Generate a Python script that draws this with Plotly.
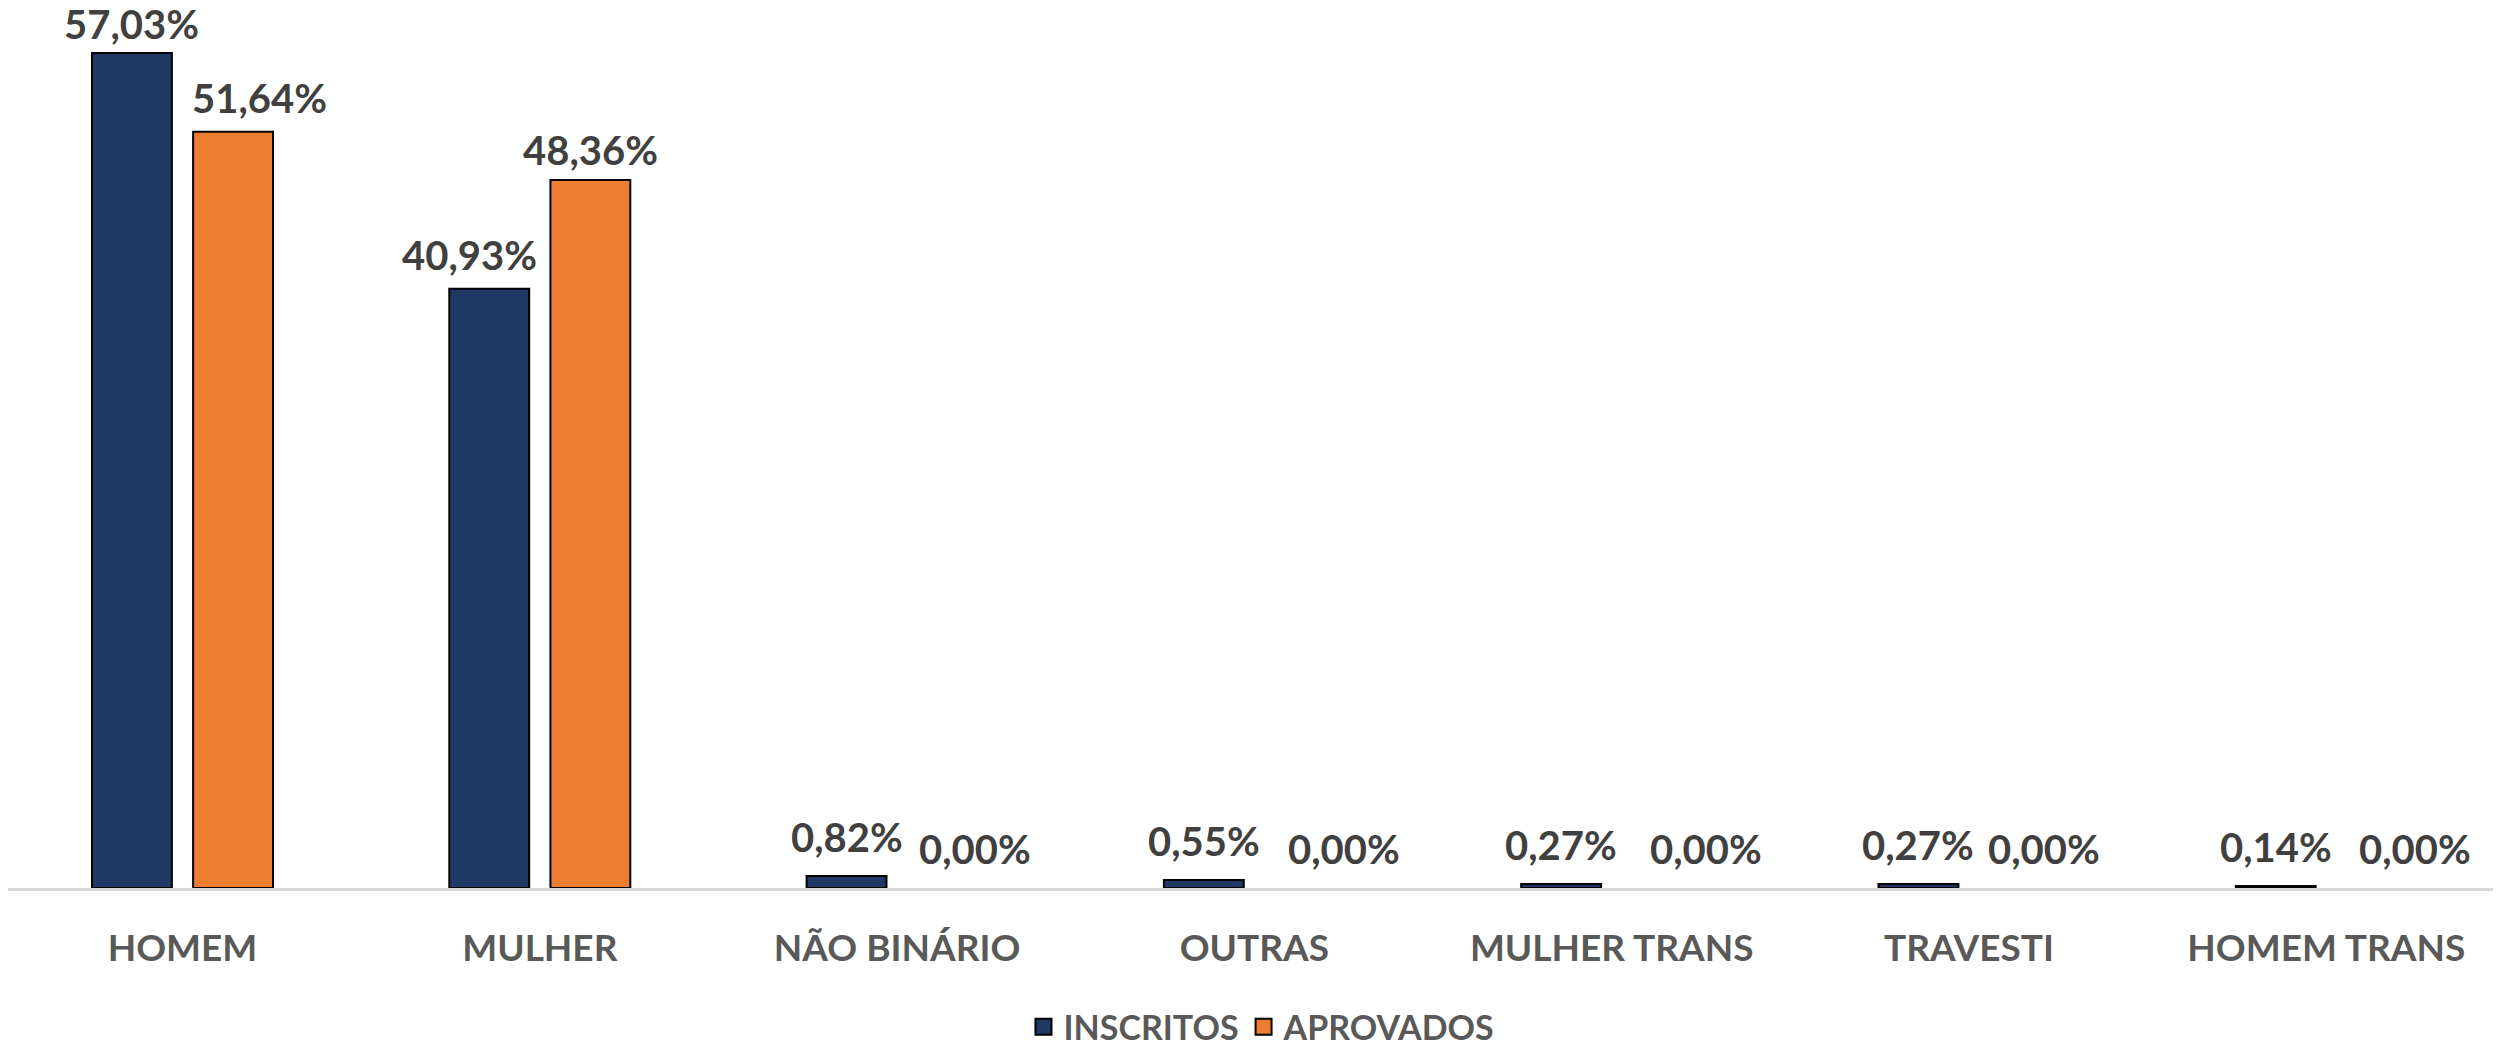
import plotly.graph_objects as go

categories = ["HOMEM", "MULHER", "NÃO BINÁRIO", "OUTRAS", "MULHER TRANS", "TRAVESTI", "HOMEM TRANS"]
inscritos = [57.03, 40.93, 0.82, 0.55, 0.27, 0.27, 0.14]
aprovados = [51.64, 48.36, 0.00, 0.00, 0.00, 0.00, 0.00]
series_names = ["INSCRITOS", "APROVADOS"]

# style: colours and small nudges of the value labels (px), as placed in the reference
colors = ["#203864", "#ED7D31"]
nudge_x_inscritos = [0, -20, 0, 0, 0, 0, 0]
nudge_x_aprovados = [26, 0, 27, 39, 44, 24, 38]
nudge_y_inscritos = [3, 8, 13, 13, 13, 13, 13]
nudge_y_aprovados = [8, 4, 13, 13, 13, 13, 13]

W, H = 2493, 1038          # page has an 8px body margin
BARGAP = 0.434
XRANGE = [-0.4884, 6.489]
step_px = W / (XRANGE[1] - XRANGE[0])
half_slot = (1 - BARGAP) * step_px / 4


def fmt(v):
    return f"{v:.2f}".replace(".", ",") + "%"


def outline(v):
    return [2 if x > 0 else 0 for x in v]


fig = go.Figure()
for name, vals, col in zip(series_names, [inscritos, aprovados], colors):
    fig.add_trace(go.Bar(
        name=name, x=categories, y=vals, showlegend=False,
        marker=dict(color=col, line=dict(color="#000000", width=outline(vals))),
    ))
# legend proxies (larger square symbols)
for name, col in zip(series_names, colors):
    fig.add_trace(go.Scatter(
        name=name, x=[None], y=[None], mode="markers",
        marker=dict(symbol="square", size=16, color=col, line=dict(color="#000000", width=2)),
    ))

label_font = dict(family="Lato", size=40, color="#404040", weight="bold")
annotations = []
for vals, sign, nx, ny in [(inscritos, -1, nudge_x_inscritos, nudge_y_inscritos),
                           (aprovados, 1, nudge_x_aprovados, nudge_y_aprovados)]:
    for cat, v, dx, dy in zip(categories, vals, nx, ny):
        annotations.append(dict(
            x=cat, y=v, xref="x", yref="y", text=fmt(v), showarrow=False,
            xanchor="center", yanchor="bottom", xshift=sign * half_slot + dx, yshift=dy,
            font=label_font,
        ))

fig.update_layout(
    width=W, height=H,
    margin=dict(l=0, r=0, t=0, b=158, autoexpand=False),
    paper_bgcolor="white", plot_bgcolor="white",
    barmode="group", bargap=BARGAP, bargroupgap=0.21,
    font=dict(family="Lato"),
    annotations=annotations,
    legend=dict(
        orientation="h", x=0.503, xanchor="center", y=-0.158, yanchor="middle",
        font=dict(family="Lato", size=34, color="#595959", weight="bold"),
        itemwidth=30, itemsizing="trace",
    ),
    xaxis=dict(
        range=XRANGE, showline=True, linecolor="#D9D9D9", linewidth=3,
        showgrid=False, ticks="", ticklabelstandoff=26, zeroline=False,
        tickfont=dict(family="Lato", size=37, color="#595959", weight="bold"),
    ),
    yaxis=dict(range=[0, 60.1], visible=False, showgrid=False, zeroline=False),
)

fig.write_html("out.html")
